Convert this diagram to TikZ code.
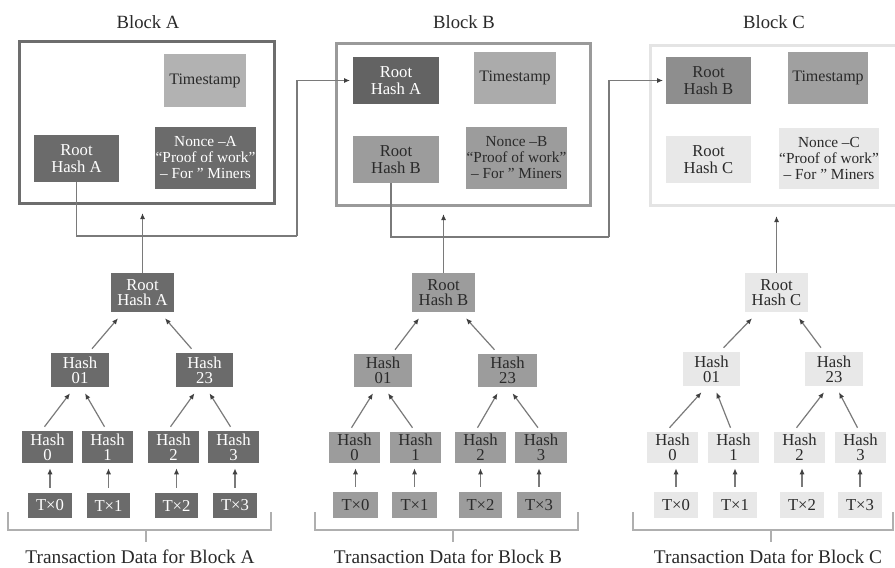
\documentclass[tikz,border=0pt]{standalone}
\usepackage{fontspec}
\setmainfont{Liberation Serif}
\usetikzlibrary{arrows.meta,calc}
\definecolor{frA}{HTML}{6D6D6D}
\definecolor{frB}{HTML}{9A9A9A}
\definecolor{frC}{HTML}{E4E4E4}
\definecolor{dk}{HTML}{6B6B6B}
\definecolor{dkr}{HTML}{636363}
\definecolor{md}{HTML}{9C9C9C}
\definecolor{mdd}{HTML}{8E8E8E}
\definecolor{lt}{HTML}{E8E8E8}
\definecolor{ts}{HTML}{B2B2B2}
\definecolor{tsb}{HTML}{ABABAB}
\definecolor{tsc}{HTML}{A0A0A0}
\definecolor{ln}{HTML}{7A7A7A}
\definecolor{txt}{HTML}{2A2A2A}
\definecolor{brc}{HTML}{AFAFAF}
\newcommand\tedge[4]{\draw[arr] ($(#1.north)+(#3,-4)$) -- ($(#2.south)+(#4,6)$);}
\newcommand\tup[2]{\draw[arr] ($(#1.north)+(0,-5)$) -- ($(#1.north |- #2.south)+(0,5)$);}
\begin{document}
\begin{tikzpicture}[x=0.75pt,y=-0.75pt,
  box/.style={inner sep=0pt, align=center, text=txt,
    font=\fontsize{12.5}{11.5}\selectfont},
  sz/.style 2 args={minimum width=#1*0.75pt, minimum height=#2*0.75pt},
  dkbox/.style={box, fill=dk, text=white},
  dkrbox/.style={box, fill=dkr, text=white},
  mdbox/.style={box, fill=md},
  mddbox/.style={box, fill=mdd},
  ltbox/.style={box, fill=lt},
  tsbox/.style={box, font=\fontsize{12}{12}\selectfont},
  nonce/.style={inner sep=0pt, align=center, font=\fontsize{11.5}{12}\selectfont},
  frame/.style={draw, line width=2.3pt, inner sep=0pt},
  title/.style={text=txt, font=\fontsize{14}{14}\selectfont},
  arr/.style={draw=ln, line width=0.9pt, -{Latex[length=4.5pt,width=3.8pt,color=black!75]}},
  conn/.style={draw=ln, line width=0.9pt},
  brace/.style={draw=brc, line width=0.9pt}]
\useasboundingbox (0,0) rectangle (895,567);
\fill[white] (0,0) rectangle (895,567);

% ---------- Titles ----------
\node[title] (tA) at (148,22) {Block A};
\node[title] (tB) at (464,22) {Block B};
\node[title] (tC) at (774,22) {Block C};

% ---------- Block frames ----------
\node[frame, draw=frA, sz={255}{162}] (blockA) at (147,122.5) {};
\node[frame, draw=frB, sz={254}{162}] (blockB) at (463.5,124.5) {};
\node[frame, draw=frC, sz={254}{160}] (blockC) at (777.5,125.5) {};

% ---------- Block A contents ----------
\node[tsbox, fill=ts, sz={82}{53}] (tsA) at (205,80.5) {Timestamp};
\node[dkbox, font=\fontsize{12.5}{12.5}\selectfont, sz={85}{47}] (rhA1) at (76.5,158.5) {Root\\Hash A};
\node[nonce, fill=dk, text=white, sz={101}{62}] (nA) at (205.5,158) {Nonce –A\\“Proof of work”\\– For ” Miners};

% ---------- Block B contents ----------
\node[dkrbox, font=\fontsize{12.5}{12.5}\selectfont, sz={86}{47}] (rhA2) at (396,80.5) {Root\\Hash A};
\node[tsbox, fill=tsb, sz={82}{52}] (tsB) at (515,78) {Timestamp};
\node[mdbox, font=\fontsize{12.5}{12.5}\selectfont, sz={86}{47}] (rhB1) at (396,159.5) {Root\\Hash B};
\node[nonce, fill=md, text=txt, sz={101}{62}] (nB) at (516.5,158) {Nonce –B\\“Proof of work”\\– For ” Miners};

% ---------- Block C contents ----------
\node[mddbox, font=\fontsize{12.5}{12.5}\selectfont, sz={85}{47}] (rhB2) at (708.5,80.5) {Root\\Hash B};
\node[tsbox, fill=tsc, sz={80}{52}] (tsC) at (828,78) {Timestamp};
\node[ltbox, font=\fontsize{12.5}{12.5}\selectfont, sz={85}{47}] (rhC1) at (708.5,159.5) {Root\\Hash C};
\node[nonce, fill=lt, text=txt, sz={100}{61}] (nC) at (829,158.5) {Nonce –C\\“Proof of work”\\– For ” Miners};

% ---------- Chain connectors ----------
\coordinate (jA) at (297,236);
\coordinate (jB) at (609,237);
\draw[conn] (rhA1.south) |- (jA);
\draw[arr, shorten >=2pt] (jA) |- (rhA2.west);
\draw[conn] ($(rhB1.south)+(-5,0)$) |- (jB);
\draw[arr, shorten >=2pt] (jB) |- (rhB2.west);

% ---------- Tree A ----------
\node[dkbox, sz={63}{39}] (rootA) at (142.5,292.5) {Root\\Hash A};
\node[dkbox, sz={58}{34}] (h01A) at (80,370) {Hash\\01};
\node[dkbox, sz={57}{34}] (h23A) at (204.5,370) {Hash\\23};
\node[dkbox, sz={51}{32}] (h0A) at (47.5,447) {Hash\\0};
\node[dkbox, sz={51}{32}] (h1A) at (107.5,447) {Hash\\1};
\node[dkbox, sz={51}{32}] (h2A) at (173.5,447) {Hash\\2};
\node[dkbox, sz={51}{32}] (h3A) at (233.5,447) {Hash\\3};
\node[dkbox, sz={44}{25}] (t0A) at (50,505.5) {T×0};
\node[dkbox, sz={43}{25}] (t1A) at (108.5,505.5) {T×1};
\node[dkbox, sz={43}{25}] (t2A) at (176.5,505.5) {T×2};
\node[dkbox, sz={44}{25}] (t3A) at (235,505.5) {T×3};

% ---------- Tree B ----------
\node[mdbox, sz={63}{39}] (rootB) at (443.5,292.5) {Root\\Hash B};
\node[mdbox, sz={58}{33}] (h01B) at (383,370.5) {Hash\\01};
\node[mdbox, sz={59}{33}] (h23B) at (507.5,370.5) {Hash\\23};
\node[mdbox, sz={51}{31}] (h0B) at (354.5,447.5) {Hash\\0};
\node[mdbox, sz={51}{31}] (h1B) at (415.5,447.5) {Hash\\1};
\node[mdbox, sz={51}{31}] (h2B) at (480.5,447.5) {Hash\\2};
\node[mdbox, sz={52}{31}] (h3B) at (541,447.5) {Hash\\3};
\node[mdbox, sz={45}{26}] (t0B) at (355.5,505) {T×0};
\node[mdbox, sz={45}{26}] (t1B) at (414.5,505) {T×1};
\node[mdbox, sz={43}{26}] (t2B) at (480.5,505) {T×2};
\node[mdbox, sz={44}{26}] (t3B) at (539,505) {T×3};

% ---------- Tree C ----------
\node[ltbox, sz={63}{39}] (rootC) at (776.5,292.5) {Root\\Hash C};
\node[ltbox, sz={57}{34}] (h01C) at (711.5,369) {Hash\\01};
\node[ltbox, sz={58}{34}] (h23C) at (834,369) {Hash\\23};
\node[ltbox, sz={51}{31}] (h0C) at (672.5,447.5) {Hash\\0};
\node[ltbox, sz={51}{31}] (h1C) at (733.5,447.5) {Hash\\1};
\node[ltbox, sz={51}{31}] (h2C) at (799.5,447.5) {Hash\\2};
\node[ltbox, sz={51}{31}] (h3C) at (860.5,447.5) {Hash\\3};
\node[ltbox, sz={44}{26}] (t0C) at (676,505) {T×0};
\node[ltbox, sz={44}{26}] (t1C) at (735,505) {T×1};
\node[ltbox, sz={44}{26}] (t2C) at (802,505) {T×2};
\node[ltbox, sz={44}{26}] (t3C) at (860,505) {T×3};

% ---------- Tree edges ----------
\foreach \s in {A,B,C}{
  \tedge{h01\s}{root\s}{12}{-24.5}
  \tedge{h23\s}{root\s}{-13}{22.5}
  \tedge{h0\s}{h01\s}{-3}{-10}
  \tedge{h1\s}{h01\s}{-3}{5}
  \tedge{h2\s}{h23\s}{-3}{-10}
  \tedge{h3\s}{h23\s}{-3}{5}
  \tup{t0\s}{h0\s}
  \tup{t1\s}{h1\s}
  \tup{t2\s}{h2\s}
  \tup{t3\s}{h3\s}
}

% ---------- Root to block ----------
\draw[arr] (rootA.north) -- ($(rootA.north |- blockA.south)+(0,8)$);
\draw[arr] (rootB.north) -- ($(rootB.north |- blockB.south)+(0,7)$);
\draw[arr] (rootC.north) -- ($(rootC.north |- blockC.south)+(0,9)$);

% ---------- Braces ----------
\draw[brace] (8,512) -- (8,530) -- (271,530) -- (271,512);
\draw[brace] (146,530) -- (146,542);
\draw[brace] (315,512) -- (315,530) -- (578,530) -- (578,512);
\draw[brace] (453,530) -- (453,542);
\draw[brace] (633,512) -- (633,530) -- (893,530) -- (893,512);
\draw[brace] (771,530) -- (771,542);

% ---------- Bottom labels ----------
\node[title, font=\fontsize{14.5}{14.5}\selectfont] (lA) at (140,557) {Transaction Data for Block A};
\node[title, font=\fontsize{14.5}{14.5}\selectfont] (lB) at (448,557) {Transaction Data for Block B};
\node[title, font=\fontsize{14.5}{14.5}\selectfont] (lC) at (768,557) {Transaction Data for Block C};
\end{tikzpicture}
\end{document}
